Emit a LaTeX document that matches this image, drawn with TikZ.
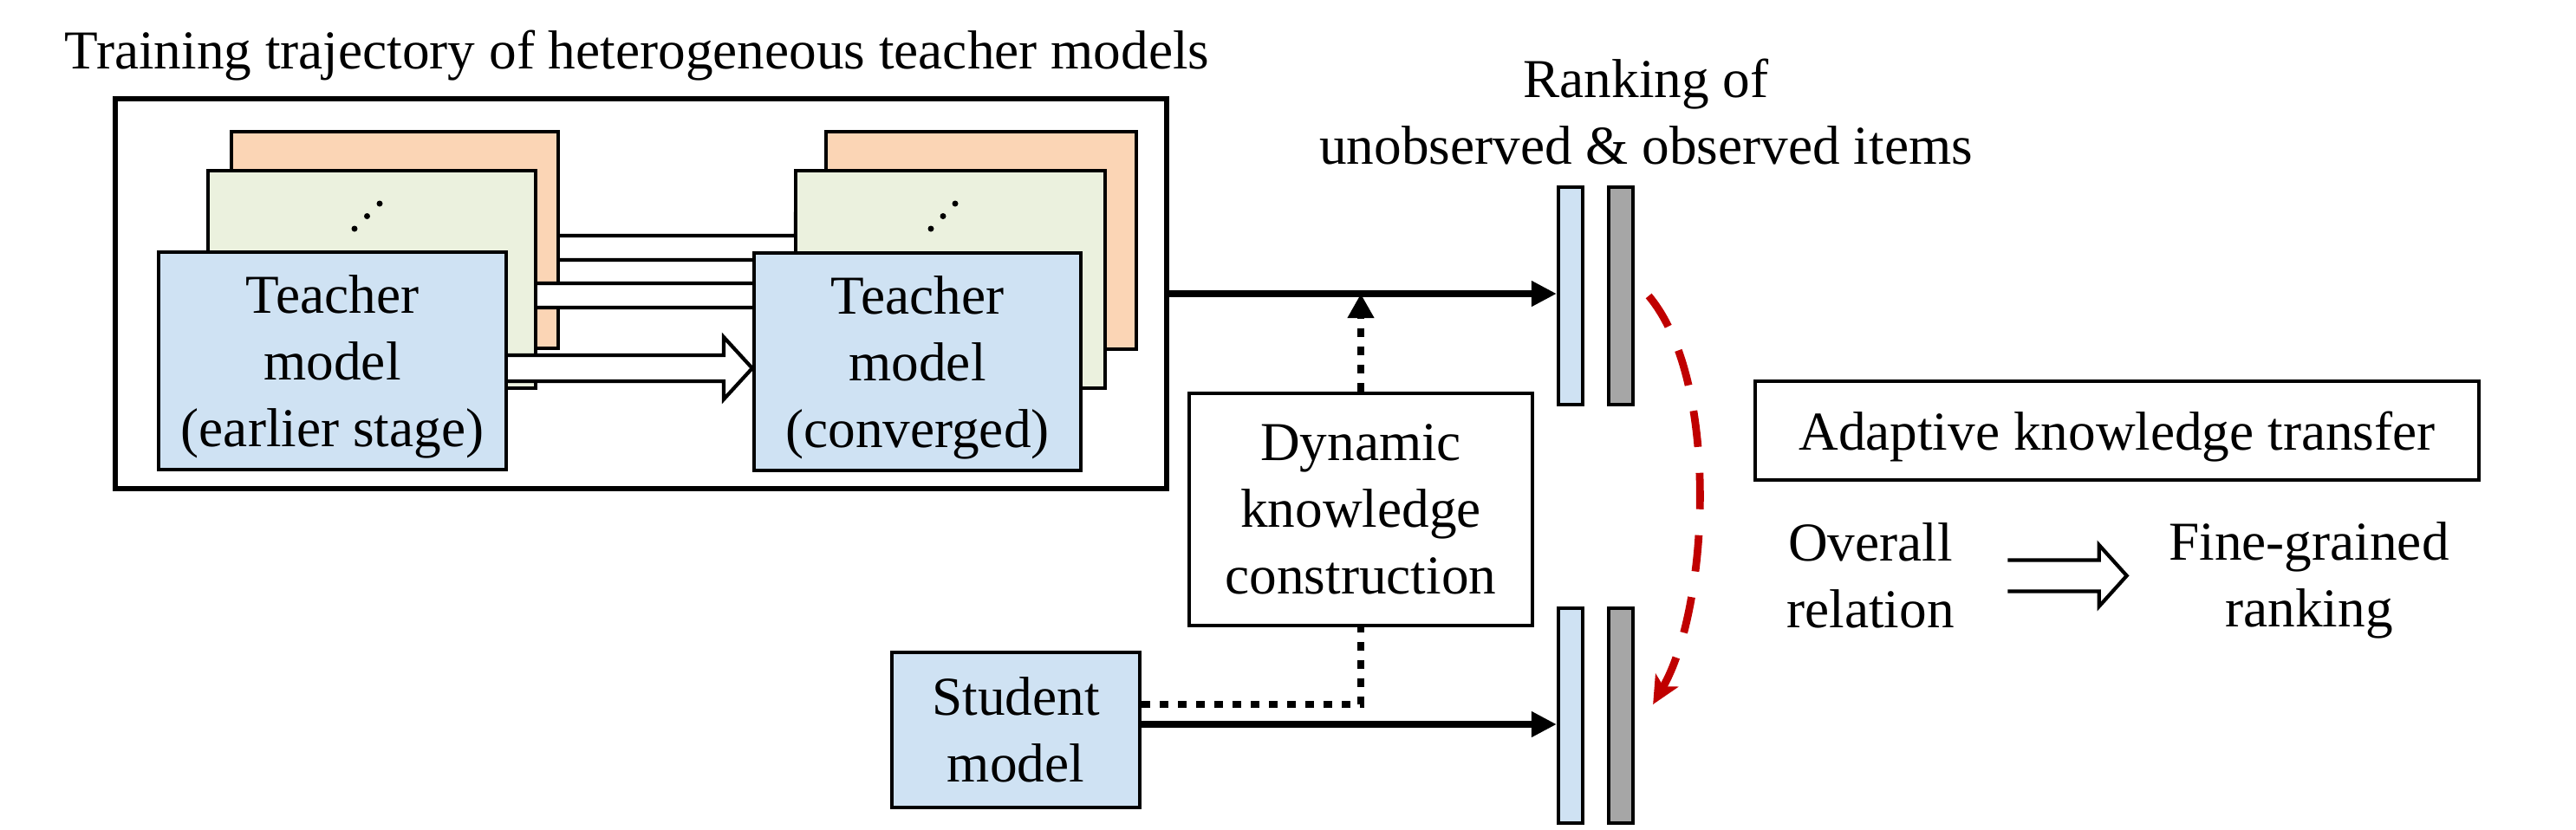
\documentclass[tikz,border=0pt]{standalone}
\usepackage{fontspec}
\setmainfont{Liberation Serif}
\usetikzlibrary{arrows.meta,calc}
\definecolor{tblue}{RGB}{207,226,243}
\definecolor{tgreen}{RGB}{235,241,222}
\definecolor{torange}{RGB}{251,213,181}
\definecolor{tgray}{RGB}{166,166,166}
\definecolor{tred}{RGB}{192,0,0}
\pgfdeclarelayer{front}
\pgfsetlayers{main,front}
\newcommand{\hollowarrow}[5]{\draw[line width=1.2pt,fill=white,line join=miter] let \p1=(#1), \p2=(#2) in
  (\x1,\y1+#3) -- (\x2-#5,\y1+#3) -- (\x2-#5,\y1+#4) -- (\x2,\y1) -- (\x2-#5,\y1-#4) -- (\x2-#5,\y1-#3) -- (\x1,\y1-#3);}
\begin{document}
\begin{tikzpicture}[every node/.style={font=\fontsize{18}{21.9}\selectfont}]
  \tikzstyle{box}=[draw,line width=1.2pt,inner sep=0,align=center]
  \tikzstyle{bar}=[draw,line width=1.2pt,inner sep=0,minimum width=0.28cm,minimum height=2.51cm]
  \tikzstyle{arr}=[line width=2.5pt,-{Triangle[length=0.29cm,width=0.28cm]}]
  \tikzstyle{dot}=[line width=2.4pt,dash pattern=on 0.1cm off 0.11cm]
  \useasboundingbox (0,0) rectangle (29.72,-9.58);
  \node[anchor=base] (title) at (7.35,-0.79) {Training trajectory of heterogeneous teacher models};
  \node[box,line width=1.7pt,minimum width=12.13cm,minimum height=4.5cm] (outer) at (7.395,-3.39) {};
  \node[box,fill=torange,minimum width=3.77cm,minimum height=2.5cm] (lo) at (4.555,-2.77) {};
  \node[box,fill=tgreen,minimum width=3.78cm,minimum height=2.51cm] (lg) at (4.29,-3.225) {};
  \foreach \d in {0,1,2}
    \fill ($(lg.center)+(0.09-0.145*\d,0.875-0.145*\d)$) circle (0.035);
  \node[box,fill=tblue,text depth=0pt,minimum width=4.01cm,minimum height=2.51cm] (lb) at (3.835,-4.165) {Teacher\\model\\(earlier stage)};
  \begin{pgfonlayer}{front}
    \node[box,fill=torange,minimum width=3.58cm,minimum height=2.51cm] (ro) at (11.32,-2.775) {};
    \node[box,fill=tgreen,minimum width=3.57cm,minimum height=2.51cm] (rg) at (10.965,-3.225) {};
    \foreach \d in {0,1,2}
      \fill ($(rg.center)+(0.055-0.14*\d,0.875-0.145*\d)$) circle (0.035);
    \node[box,fill=tblue,text depth=0pt,minimum width=3.77cm,minimum height=2.51cm] (rb) at (10.585,-4.175) {Teacher\\model\\(converged)};
  \end{pgfonlayer}
  \hollowarrow{[yshift=-0.09cm]lo.east}{ro.west}{0.14cm}{0.36cm}{0.33cm}
  \hollowarrow{[yshift=-0.185cm]lg.east}{rg.west}{0.14cm}{0.36cm}{0.33cm}
  \hollowarrow{[yshift=-0.085cm]lb.east}{rb.west}{0.15cm}{0.36cm}{0.33cm}
  \node[align=center] (rank) at (18.99,-1.29) {Ranking of\\unobserved \& observed items};
  \node[bar,fill=tblue] (tb) at (18.12,-3.415) {};
  \node[bar,fill=tgray] (tg) at (18.70,-3.415) {};
  \node[bar,fill=tblue,minimum height=2.48cm] (bb) at (18.12,-8.26) {};
  \node[bar,fill=tgray,minimum height=2.48cm] (bg) at (18.70,-8.26) {};
  \node[box,line width=1.4pt,minimum width=3.96cm,minimum height=2.68cm] (dyn) at (15.70,-5.88) {Dynamic\\knowledge\\construction};
  \node[box,fill=tblue,minimum width=2.86cm,minimum height=1.79cm] (stu) at (11.72,-8.425) {Student\\model};
  \draw[arr] (outer.east) -- (outer.east -| tb.west);
  \draw[dot,-{Triangle[length=0.28cm,width=0.29cm]}] (dyn.north) -- (dyn.north |- outer.east);
  \draw[dot] ([yshift=0.295cm]stu.east) -| (dyn.south);
  \draw[arr] ([yshift=0.065cm]stu.east) -- ([yshift=0.065cm]stu.east -| bb.west);
  \draw[tred,line width=2.5pt,dash pattern=on 0.42cm off 0.3cm,-{Stealth[length=0.32cm,width=0.3cm,inset=0.08cm]}]
    ([xshift=0.16cm]tg.east) to[out=-50,in=60,looseness=0.7] ([xshift=0.21cm,yshift=0.13cm]bg.east);
  \node[box,line width=1.3pt,text depth=0pt,minimum width=8.35cm,minimum height=1.14cm] (akt) at (24.425,-4.97) {Adaptive knowledge transfer};
  \node[align=center,inner sep=0] (ov) at (21.58,-6.645) {Overall\\relation};
  \node[align=center,inner sep=0] (fg) at (26.64,-6.70) {Fine-grained\\ranking};
  \hollowarrow{[xshift=0.61cm]ov.east}{[xshift=-0.48cm]fg.west}{0.18cm}{0.355cm}{0.32cm}
\end{tikzpicture}
\end{document}
